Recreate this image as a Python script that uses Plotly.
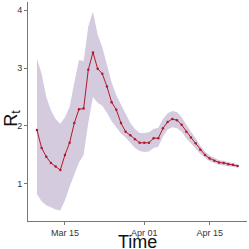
import plotly.graph_objects as go
import pandas as pd

dates = pd.date_range("2020-03-09", "2020-04-21", freq="D")
rt_mean = [1.93, 1.62, 1.47, 1.36, 1.30, 1.24, 1.50, 1.71, 2.05, 2.29, 2.30,
           2.97, 3.27, 2.99, 2.90, 2.68, 2.41, 2.28, 2.05, 1.90, 1.84, 1.77,
           1.71, 1.71, 1.71, 1.79, 1.79, 1.96, 2.07, 2.12, 2.10, 2.02, 1.90,
           1.80, 1.70, 1.59, 1.50, 1.44, 1.40, 1.37, 1.36, 1.34, 1.33, 1.31]
rt_lower = [0.82, 0.70, 0.63, 0.59, 0.56, 0.54, 0.72, 0.95, 1.17, 1.37, 1.50,
            2.05, 2.50, 2.40, 2.35, 2.23, 2.08, 1.97, 1.87, 1.80, 1.70, 1.62,
            1.57, 1.55, 1.56, 1.62, 1.64, 1.82, 1.94, 1.98, 1.96, 1.90, 1.79,
            1.70, 1.62, 1.52, 1.45, 1.39, 1.36, 1.33, 1.32, 1.31, 1.30, 1.28]
rt_upper = [3.16, 2.90, 2.50, 2.27, 2.12, 2.04, 2.15, 2.33, 2.75, 3.14, 3.12,
            3.72, 3.97, 3.58, 3.36, 3.04, 2.75, 2.53, 2.37, 2.21, 2.05, 1.95,
            1.88, 1.88, 1.89, 1.95, 1.97, 2.12, 2.22, 2.26, 2.24, 2.15, 2.02,
            1.90, 1.79, 1.66, 1.56, 1.49, 1.45, 1.41, 1.40, 1.38, 1.36, 1.34]
x_tick_vals = ["2020-03-15", "2020-04-01", "2020-04-15"]
x_tick_text = ["Mar 15", "Apr 01", "Apr 15"]
y_tick_vals = [1, 2, 3, 4]

band_color = "rgba(212,204,222,1)"
line_color = "#b3182d"

fig = go.Figure()
fig.add_trace(go.Scatter(x=dates, y=rt_upper, mode="lines",
                         line=dict(width=0, color=band_color),
                         showlegend=False, hoverinfo="skip"))
fig.add_trace(go.Scatter(x=dates, y=rt_lower, mode="lines",
                         line=dict(width=0, color=band_color),
                         fill="tonexty", fillcolor=band_color,
                         showlegend=False, hoverinfo="skip"))
fig.add_trace(go.Scatter(x=dates, y=rt_mean, mode="lines+markers",
                         line=dict(width=1, color=line_color),
                         marker=dict(size=2.5, color=line_color),
                         showlegend=False))

fig.update_layout(
    width=249, height=249,
    margin=dict(l=28, r=2, t=2, b=28),
    paper_bgcolor="white", plot_bgcolor="white",
    font=dict(family="Liberation Sans, Arial, sans-serif", size=9, color="#333"),
    xaxis=dict(
        range=["2020-03-07 02:00", "2020-04-23"],
        tickvals=x_tick_vals, ticktext=x_tick_text,
        showgrid=False, zeroline=False, automargin=False,
        showline=True, linecolor="#777", linewidth=1,
        ticks="outside", ticklen=3, tickcolor="#777",
    ),
    yaxis=dict(
        range=[0.36, 4.14],
        tickvals=y_tick_vals,
        showgrid=False, zeroline=False, automargin=False,
        showline=True, linecolor="#777", linewidth=1,
        ticks="outside", ticklen=3, tickcolor="#777",
    ),
    annotations=[
        dict(text="Time", xref="paper", yref="paper", x=0.5, y=-0.094,
             xanchor="center", yanchor="middle", showarrow=False,
             font=dict(size=18, color="#111")),
        dict(text="R<sub>t</sub>", xref="paper", yref="paper", x=-0.075, y=0.47,
             xanchor="center", yanchor="middle", showarrow=False, textangle=-90,
             font=dict(size=18, color="#111")),
    ],
)

fig.write_html(
    "out.html",
    config={"displayModeBar": False},
    post_script="document.body.style.margin='0';document.body.style.padding='0';document.body.style.overflow='hidden';",
)
